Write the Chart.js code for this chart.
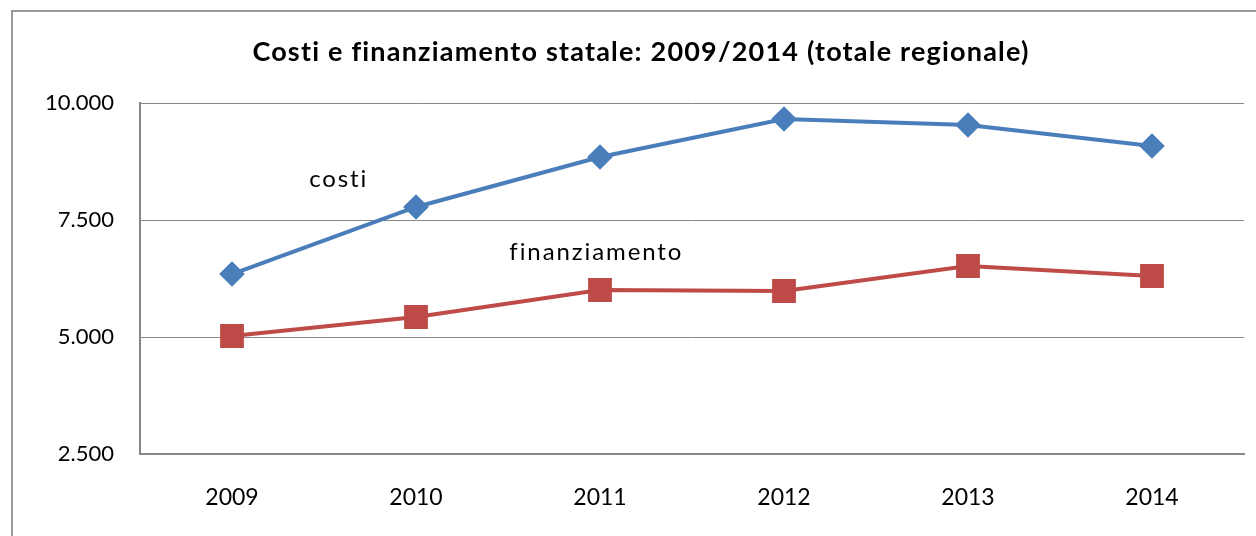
<!DOCTYPE html>
<html>
<head>
<meta charset="utf-8">
<script src="https://cdn.jsdelivr.net/npm/chart.js@4/dist/chart.umd.min.js"></script>
<style>
  html, body { margin: 0; padding: 0; background: #fff; }
  #wrap { position: relative; width: 1256px; height: 536px; }
</style>
</head>
<body>
<div id="wrap"><canvas id="chart"></canvas></div>
<script>
// data
const years = ['2009', '2010', '2011', '2012', '2013', '2014'];
const costi = [6346, 7778, 8846, 9658, 9530, 9081];
const finanziamento = [5021, 5427, 6004, 5983, 6517, 6303];
const yTicks = [2500, 5000, 7500, 10000];

const chartTitle = 'Costi e finanziamento statale: 2009/2014 (totale regionale)';

// in-chart labels: [text, category index, value]
const seriesLabels = [
  ['costi', 0.58, 8360],
  ['finanziamento', 1.98, 6800]
];

const FONT = 'Lato, "Open Sans", sans-serif';
const GRAY = '#868686';

function fmt(v) {
  return String(v).replace(/\B(?=(\d{3})+(?!\d))/g, '.');
}

// outer border + title (drawn by hand so letter spacing can match)
const frame = {
  id: 'frame',
  beforeDraw(chart) {
    const c = chart.ctx;
    c.save();
    c.strokeStyle = '#9a9a9a';
    c.lineWidth = 2;
    c.strokeRect(12, 11, chart.width + 20, chart.height + 20);
    c.fillStyle = '#000';
    c.font = 'bold 27px ' + FONT;
    c.letterSpacing = '1.2px';
    c.textAlign = 'center';
    c.textBaseline = 'middle';
    c.fillText(chartTitle, 641, 52);
    c.restore();
  }
};

const labelsPlugin = {
  id: 'seriesLabels',
  afterDatasetsDraw(chart) {
    const c = chart.ctx, x = chart.scales.x, y = chart.scales.y;
    c.save();
    c.fillStyle = '#000';
    c.font = '24px ' + FONT;
    c.letterSpacing = '1.9px';
    c.textAlign = 'center';
    c.textBaseline = 'middle';
    seriesLabels.forEach(l => {
      c.fillText(l[0], x.getPixelForValue(l[1]), y.getPixelForValue(l[2]));
    });
    c.restore();
  }
};

new Chart(document.getElementById('chart'), {
  type: 'line',
  data: {
    labels: years,
    datasets: [
      {label: 'costi', data: costi, borderColor: '#4a7ebb', backgroundColor: '#4a7ebb',
       borderWidth: 4, pointStyle: 'rectRot', pointRadius: 10, pointHoverRadius: 10, tension: 0},
      {label: 'finanziamento', data: finanziamento, borderColor: '#be4b48', backgroundColor: '#be4b48',
       borderWidth: 4, pointStyle: 'rect', pointRadius: 14, pointHoverRadius: 14, tension: 0}
    ]
  },
  options: {
    responsive: true,
    maintainAspectRatio: false,
    animation: false,
    events: [],
    layout: {autoPadding: false, padding: {left: 0, right: 12, top: 103, bottom: 0}},
    plugins: {
      legend: {display: false},
      tooltip: {enabled: false},
      title: {display: false}
    },
    scales: {
      x: {
        offset: true,
        grid: {display: false, drawTicks: false},
        border: {display: true, color: GRAY, width: 2},
        ticks: {color: '#000', font: {family: FONT, size: 23}, padding: 30},
        afterFit: s => { s.height = 82; }
      },
      y: {
        min: 2500,
        max: 10000,
        afterBuildTicks: s => { s.ticks = yTicks.map(v => ({value: v})); },
        grid: {color: GRAY, lineWidth: 1, drawTicks: false},
        border: {display: true, color: GRAY, width: 2},
        ticks: {color: '#000', font: {family: FONT, size: 22}, padding: 26, callback: v => fmt(v)},
        afterFit: s => { s.width = 140; }
      }
    }
  },
  plugins: [frame, labelsPlugin]
});
</script>
</body>
</html>
